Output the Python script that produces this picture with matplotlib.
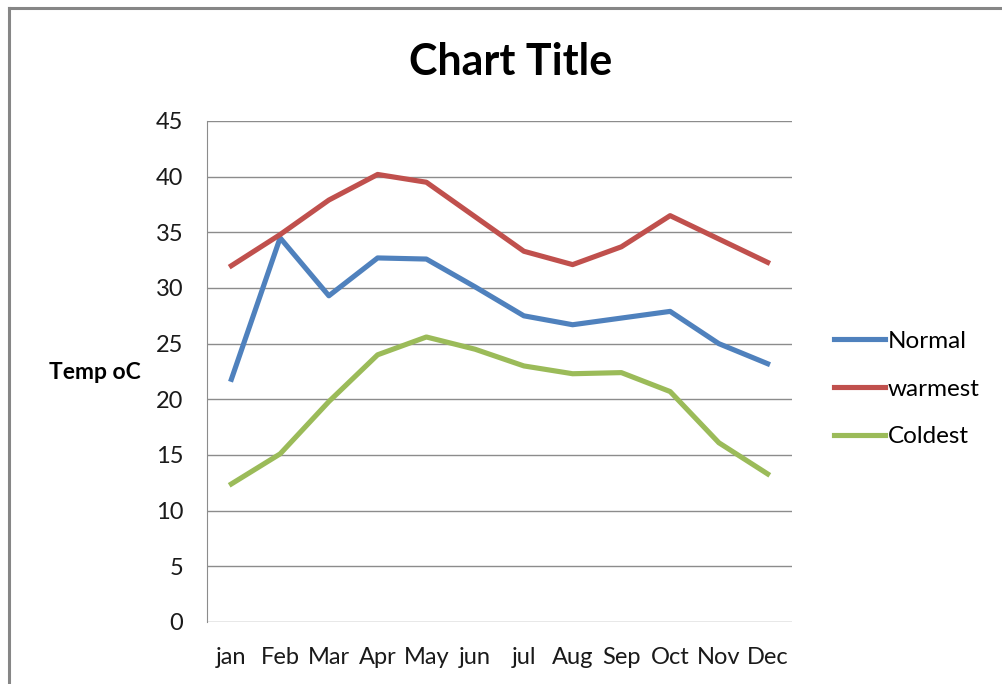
import matplotlib
matplotlib.use('Agg')
import matplotlib.pyplot as plt
from matplotlib.lines import Line2D

plt.rcParams['font.family'] = ['Lato', 'DejaVu Sans']

# %% Datos
months = ['jan', 'Feb', 'Mar', 'Apr', 'May', 'jun', 'jul', 'Aug', 'Sep', 'Oct', 'Nov', 'Dec']
normal = [21.8, 34.5, 29.3, 32.7, 32.6, 30.1, 27.5, 26.7, 27.3, 27.9, 25.0, 23.2]
warmest = [32.0, 34.8, 37.9, 40.2, 39.5, 36.4, 33.3, 32.1, 33.7, 36.5, 34.4, 32.3]
coldest = [12.4, 15.1, 19.8, 24.0, 25.6, 24.5, 23.0, 22.3, 22.4, 20.7, 16.1, 13.3]
yticks = [0, 5, 10, 15, 20, 25, 30, 35, 40, 45]

# %% Figura
fig = plt.figure(figsize=(10.02, 6.84), dpi=100)
ax = fig.add_axes([207/1002, 1-622/684, 585/1002, 501/684])

x = range(len(months))
ax.plot(x, normal, color='#4F81BD', lw=3.7, label='Normal', solid_joinstyle='round')
ax.plot(x, warmest, color='#C0504D', lw=3.7, label='warmest', solid_joinstyle='round')
ax.plot(x, coldest, color='#9BBB59', lw=3.7, label='Coldest', solid_joinstyle='round')

ax.set_xlim(-0.5, 11.5)
ax.set_ylim(0, 45)
ax.set_yticks(yticks)
ax.set_xticks(list(x))
ax.set_xticklabels(months)
ax.grid(True, axis='y', color='#8c8c8c', lw=1)
ax.set_axisbelow(True)
for s in ['top', 'right', 'bottom']:
    ax.spines[s].set_visible(False)
ax.spines['left'].set_color('#8c8c8c')
ax.tick_params(length=0, labelsize=17, colors='#1a1a1a')
ax.tick_params(axis='y', pad=17)
ax.tick_params(axis='x', pad=18)

fig.text(95/1002, 1-373/684, 'Temp oC', fontsize=16.5, fontweight='bold',
         ha='center', va='center')
fig.text(511/1002, 1-62/684, 'Chart Title', fontsize=31, fontweight='bold',
         ha='center', va='center')

leg = ax.legend(loc='center left', bbox_to_anchor=(1.035, 0.465), frameon=False,
                fontsize=17.5, handlelength=2.1, handletextpad=0.1,
                labelspacing=1.1)

# borde del grafico
fig.add_artist(Line2D([9/1002, 9/1002], [0, 1-8/684], color='#868686', lw=2.2))
fig.add_artist(Line2D([9/1002, 1], [1-8/684, 1-8/684], color='#868686', lw=2.2))

fig.savefig('out.png', dpi=100)
